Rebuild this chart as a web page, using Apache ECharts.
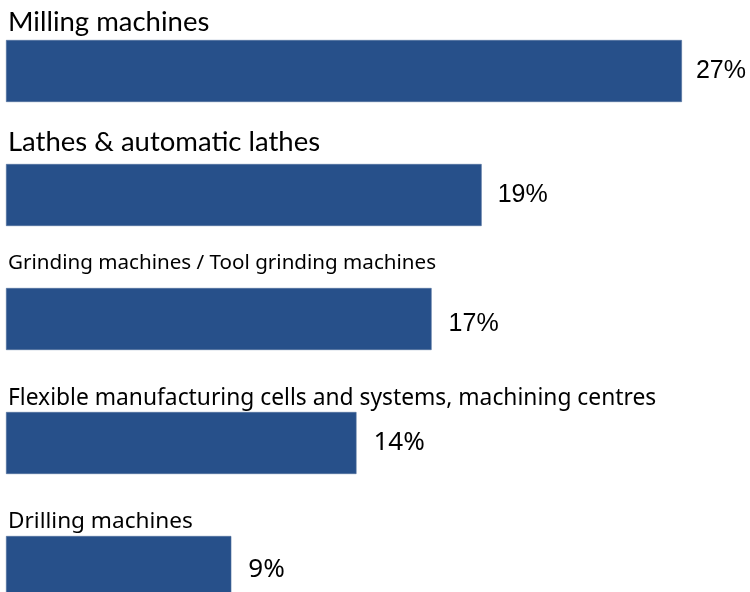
<!DOCTYPE html>
<html>
<head>
<meta charset="utf-8">
<title>Machine tool categories</title>
<script src="https://cdn.jsdelivr.net/npm/echarts@6/dist/echarts.min.js"></script>
<style>
  html, body { margin: 0; padding: 0; background: #ffffff; }
  #chart { width: 750px; height: 592px; }
</style>
</head>
<body>
<div id="chart"></div>
<script>
// Categories, top to bottom
const categories = [
  'Milling machines',
  'Lathes & automatic lathes',
  'Grinding machines / Tool grinding machines',
  'Flexible manufacturing cells and systems, machining centres',
  'Drilling machines'
];
// Share of each category, in percent
const shares = [27, 19, 17, 14, 9];

// Per-row text styling for the category captions and the value labels
const captionStyle = [
  { font: 'Lato', size: 27.5, dy: -18 },
  { font: 'Lato', size: 27.5, dy: -22 },
  { font: 'Noto Sans', size: 20.6, dy: -25 },
  { font: 'Noto Sans', size: 22.8, dy: -13 },
  { font: 'Noto Sans', size: 22.6, dy: -14 }
];
const valueStyle = [
  { font: 'Liberation Sans', size: 25, dist: 14, dy: 0 },
  { font: 'Liberation Sans', size: 25, dist: 16, dy: 0 },
  { font: 'Liberation Sans', size: 25, dist: 17, dy: 5 },
  { font: 'Noto Sans', size: 26, dist: 17, dy: 0 },
  { font: 'Noto Sans', size: 26, dist: 17, dy: 3 }
];

const BAR_COLOR = '#27508a';

const barData = shares.map((v, i) => ({
  value: v,
  label: {
    distance: valueStyle[i].dist,
    fontFamily: valueStyle[i].font,
    fontSize: valueStyle[i].size,
    offset: [0, valueStyle[i].dy]
  }
}));

const captionData = shares.map((v, i) => ({
  value: v,
  label: {
    position: [2, captionStyle[i].dy],
    fontFamily: captionStyle[i].font,
    fontSize: captionStyle[i].size
  }
}));

const chart = echarts.init(document.getElementById('chart'), null, { renderer: 'canvas' });

chart.setOption({
  animation: false,
  backgroundColor: '#ffffff',
  grid: {
    left: 6, top: 9, width: 726, height: 620,
    containLabel: false,
    outerBoundsMode: 'none'
  },
  xAxis: {
    type: 'value',
    min: 0,
    max: 29,
    show: false
  },
  yAxis: {
    type: 'category',
    data: categories,
    inverse: true,
    show: false
  },
  series: [
    {
      type: 'bar',
      data: barData,
      barWidth: 62,
      barGap: '-100%',
      itemStyle: { color: BAR_COLOR, borderColor: '#4f6f9c', borderWidth: 0.6 },
      label: {
        show: true,
        position: 'right',
        color: '#000000',
        formatter: p => p.value + '%'
      },
      silent: true
    },
    {
      type: 'bar',
      data: captionData,
      barWidth: 62,
      barGap: '-100%',
      itemStyle: { color: 'rgba(0,0,0,0)' },
      label: {
        show: true,
        color: '#000000',
        align: 'left',
        verticalAlign: 'middle',
        formatter: p => p.name
      },
      silent: true,
      z: 3
    }
  ]
});
</script>
</body>
</html>
